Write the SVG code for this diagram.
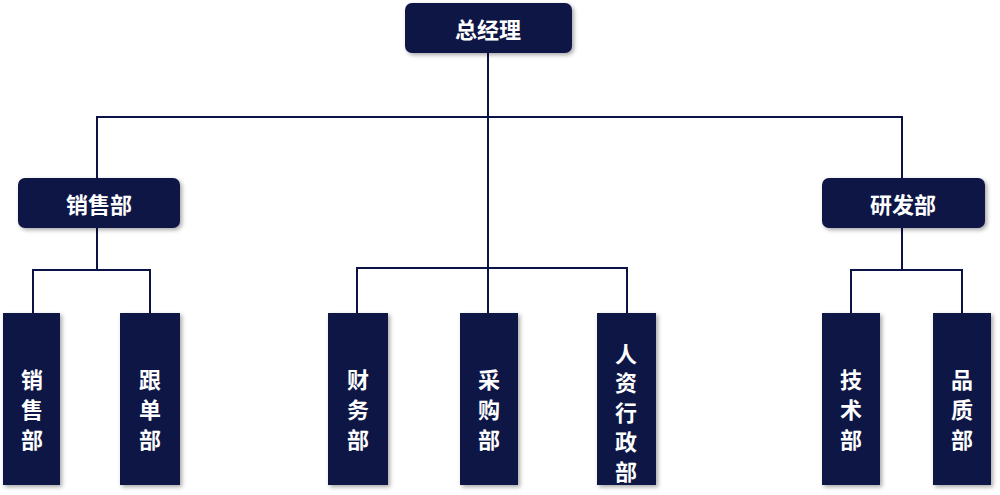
<svg xmlns="http://www.w3.org/2000/svg" width="1000" height="495" viewBox="0 0 1000 495">
<defs>
<filter id="sh" x="-20%" y="-20%" width="140%" height="140%"><feDropShadow dx="2" dy="2" stdDeviation="2" flood-color="#000" flood-opacity="0.35"/></filter>
<style>
.b{fill:#0b1245;filter:url(#sh)}
.t{fill:#fff;font-family:"Noto Sans CJK SC",sans-serif;font-weight:bold;font-size:22px;text-anchor:middle;dominant-baseline:central}
.c{stroke:#0b1245;stroke-width:2;fill:none}
</style>
</defs>
<rect width="1000" height="495" fill="#fff"/>
<g id="connectors">
<path class="c" d="M488 53V313M97 178V117H902V178M97 228V270M33 313V270H150V313M357 313V268H627V313M902 228V270M851 313V270H962V313"/>
</g>
<g id="ceo"><rect class="b" x="405" y="3" width="167" height="50" rx="7"/><text class="t" x="488" y="28">总经理</text></g>
<g id="sales"><rect class="b" x="18" y="178" width="162" height="50" rx="7"/><text class="t" x="99" y="203">销售部</text></g>
<g id="rd"><rect class="b" x="822" y="178" width="163" height="50" rx="7"/><text class="t" x="903" y="203">研发部</text></g>
<g id="n1"><rect class="b" x="3" y="313" width="57" height="172"/><text class="t" x="32"><tspan x="32" y="378">销</tspan><tspan x="32" y="408">售</tspan><tspan x="32" y="438">部</tspan></text></g>
<g id="n2"><rect class="b" x="120" y="313" width="60" height="172"/><text class="t"><tspan x="150" y="378">跟</tspan><tspan x="150" y="408">单</tspan><tspan x="150" y="438">部</tspan></text></g>
<g id="n3"><rect class="b" x="328" y="313" width="60" height="172"/><text class="t"><tspan x="358" y="378">财</tspan><tspan x="358" y="408">务</tspan><tspan x="358" y="438">部</tspan></text></g>
<g id="n4"><rect class="b" x="460" y="313" width="58" height="172"/><text class="t"><tspan x="489" y="378">采</tspan><tspan x="489" y="408">购</tspan><tspan x="489" y="438">部</tspan></text></g>
<g id="n5"><rect class="b" x="597" y="313" width="59" height="172"/><text class="t"><tspan x="626" y="352">人</tspan><tspan x="626" y="381">资</tspan><tspan x="626" y="411">行</tspan><tspan x="626" y="440">政</tspan><tspan x="626" y="470">部</tspan></text></g>
<g id="n6"><rect class="b" x="822" y="313" width="58" height="172"/><text class="t"><tspan x="851" y="378">技</tspan><tspan x="851" y="408">术</tspan><tspan x="851" y="438">部</tspan></text></g>
<g id="n7"><rect class="b" x="933" y="313" width="58" height="172"/><text class="t"><tspan x="962" y="378">品</tspan><tspan x="962" y="408">质</tspan><tspan x="962" y="438">部</tspan></text></g>
</svg>
